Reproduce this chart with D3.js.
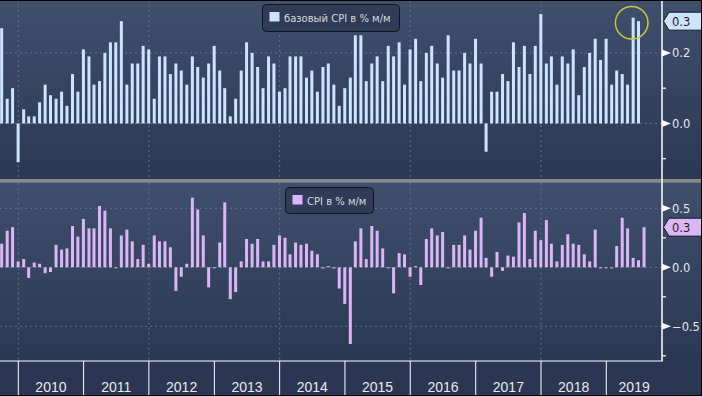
<!DOCTYPE html>
<html>
<head>
<meta charset="utf-8">
<script src="https://cdn.jsdelivr.net/npm/d3@7"></script>
<style>
body { margin: 0; background: #2a3652; }
svg { display: block; }
</style>
</head>
<body>
<svg></svg>
<script>
// monthly data, first bar = Sep 2009 (bars sit at month end)
let firstMonth = "2009-09"

let coreValues = [
  0.27, 0.07, 0.10, -0.11, 0.04, 0.02, 0.02, 0.06, 0.11, 0.08, 0.07, 0.09,
  0.05, 0.14, 0.09, 0.21, 0.19, 0.11, 0.12, 0.20, 0.23, 0.23, 0.29, 0.11,
  0.17, 0.17, 0.22, 0.21, 0.07, 0.19, 0.19, 0.14, 0.17, 0.15, 0.11, 0.19,
  0.16, 0.13, 0.17, 0.22, 0.15, 0.10, 0.02, 0.07, 0.15, 0.23, 0.20, 0.16,
  0.10, 0.19, 0.17, 0.09, 0.10, 0.19, 0.19, 0.19, 0.13, 0.15, 0.09, 0.16,
  0.17, 0.11, 0.05, 0.10, 0.13, 0.25, 0.25, 0.12, 0.17, 0.19, 0.12, 0.22,
  0.19, 0.23, 0.11, 0.21, 0.24, 0.12, 0.20, 0.22, 0.17, 0.13, 0.25, 0.15,
  0.15, 0.20, 0.17, 0.24, 0.17, -0.08, 0.09, 0.09, 0.14, 0.12, 0.23, 0.16,
  0.22, 0.14, 0.22, 0.31, 0.17, 0.19, 0.11, 0.19, 0.17, 0.21, 0.08, 0.16,
  0.20, 0.24, 0.18, 0.24, 0.11, 0.15, 0.14, 0.11, 0.30, 0.29
]

let cpiValues = [
  0.20, 0.31, 0.34, 0.05, 0.07, -0.09, 0.04, 0.03, -0.05, -0.04, 0.19, 0.15,
  0.16, 0.35, 0.26, 0.41, 0.33, 0.33, 0.52, 0.48, 0.33, 0.00, 0.27, 0.32,
  0.22, 0.07, 0.19, 0.03, 0.27, 0.22, 0.22, 0.17, -0.20, -0.08, 0.03, 0.59,
  0.49, 0.27, -0.17, 0.00, 0.21, 0.55, -0.27, -0.21, 0.05, 0.24, 0.20, 0.24,
  0.05, 0.05, 0.19, 0.27, 0.25, 0.11, 0.21, 0.19, 0.20, 0.14, 0.11, -0.01,
  0.01, -0.01, -0.18, -0.31, -0.65, 0.22, 0.33, 0.07, 0.35, 0.31, 0.16, 0.00,
  -0.22, 0.12, 0.11, -0.08, 0.01, -0.15, 0.24, 0.33, 0.27, 0.30, 0.00, 0.19,
  0.19, 0.27, 0.15, 0.31, 0.42, 0.08, -0.08, 0.13, -0.03, 0.10, 0.09, 0.38,
  0.46, 0.07, 0.31, 0.23, 0.40, 0.20, 0.05, 0.19, 0.28, 0.20, 0.19, 0.11,
  0.05, 0.32, 0.00, 0.00, 0.00, 0.18, 0.42, 0.33, 0.08, 0.06, 0.34
]

let years = [2010, 2011, 2012, 2013, 2014, 2015, 2016, 2017, 2018, 2019]
let gridYears = [2010, 2012, 2014, 2016, 2018]

let coreTicks = [0.2, 0.0]
let coreMinorTicks = [0.1, -0.1]
let cpiTicks = [0.5, 0.0, -0.5]
let cpiMinorTicks = [0.25, -0.25, -0.75]

let coreLabel = "базовый CPI в % м/м"
let cpiLabel = "CPI в % м/м"

let width = 702
let height = 396
let plotRight = 662
let axisY = 361

let svg = d3.select("svg")
  .attr("width", width)
  .attr("height", height)

let parseMonth = d3.timeParse("%Y-%m")
let start = parseMonth(firstMonth)
// month-end date for bar i
let monthEnd = (i) => d3.timeDay.offset(d3.timeMonth.offset(start, i + 1), -1)

let xScale = d3.scaleTime()
  .domain([new Date(2010, 0, 1), new Date(2019, 0, 1)])
  .range([18.3, 606.3])

let defs = svg.append("defs")
let grad = defs.append("linearGradient")
  .attr("id", "panelGrad")
  .attr("x1", 0).attr("y1", 0).attr("x2", 0).attr("y2", 1)
grad.append("stop").attr("offset", "0%").attr("stop-color", "#3f4f6c")
grad.append("stop").attr("offset", "100%").attr("stop-color", "#2b3853")

let panels = [
  {
    id: "core", values: coreValues, top: 0, bottom: 179,
    domain: [-0.1575, 0.35], ticks: coreTicks, minor: coreMinorTicks,
    color: "#cce4ff", label: coreLabel,
    legend: { x: 262, y: 4, w: 137, h: 27 }
  },
  {
    id: "cpi", values: cpiValues, top: 182.7, bottom: axisY,
    domain: [-0.794, 0.717], ticks: cpiTicks, minor: cpiMinorTicks,
    color: "#dbb6f4", label: cpiLabel,
    legend: { x: 285, y: 187, w: 88, h: 26 }
  }
]

// area under x axis
svg.append("rect")
  .attr("x", 0).attr("y", axisY)
  .attr("width", width).attr("height", height - axisY)
  .attr("fill", "#2a3652")

let drawPanel = (p) => {
  let yScale = d3.scaleLinear()
    .domain(p.domain)
    .range([p.bottom, p.top])

  let g = svg.append("g").attr("id", p.id)

  g.append("rect")
    .attr("x", 0).attr("y", p.top)
    .attr("width", width).attr("height", p.bottom - p.top)
    .attr("fill", "url(#panelGrad)")

  defs.append("clipPath").attr("id", "clip-" + p.id)
    .append("rect")
    .attr("x", 0).attr("y", p.top)
    .attr("width", plotRight).attr("height", p.bottom - p.top)

  // dashed grid
  g.selectAll(".hgrid")
    .data(p.ticks)
    .enter()
    .append("line")
    .attr("x1", 0).attr("x2", plotRight)
    .attr("y1", (d) => yScale(d)).attr("y2", (d) => yScale(d))
    .attr("stroke", "#5d7190")
    .attr("stroke-dasharray", "2,3")

  g.selectAll(".vgrid")
    .data(gridYears)
    .enter()
    .append("line")
    .attr("x1", (d) => xScale(new Date(d, 0, 1)))
    .attr("x2", (d) => xScale(new Date(d, 0, 1)))
    .attr("y1", p.top).attr("y2", p.bottom)
    .attr("stroke", "#5d7190")
    .attr("stroke-dasharray", "2,3")

  // bars
  g.append("g")
    .attr("clip-path", "url(#clip-" + p.id + ")")
    .selectAll("rect")
    .data(p.values)
    .enter()
    .append("rect")
    .attr("x", (d, i) => xScale(monthEnd(i)) - 1.5)
    .attr("width", 3)
    .attr("y", (d) => Math.min(yScale(d), yScale(0)))
    .attr("height", (d) => Math.max(1, Math.abs(yScale(d) - yScale(0))))
    .attr("fill", p.color)

  // right axis ticks
  let axis = g.append("g")
  axis.selectAll(".minor")
    .data(p.minor)
    .enter()
    .append("line")
    .attr("x1", plotRight).attr("x2", plotRight + 4)
    .attr("y1", (d) => yScale(d)).attr("y2", (d) => yScale(d))
    .attr("stroke", "#ffffff")
    .attr("stroke-width", 1.2)

  axis.selectAll(".marker")
    .data(p.ticks)
    .enter()
    .append("path")
    .attr("d", (d) => {
      let y = yScale(d)
      return "M" + plotRight + "," + (y - 3.5) + "L" + (plotRight + 9) + "," + y + "L" + plotRight + "," + (y + 3.5) + "Z"
    })
    .attr("fill", "#ffffff")

  axis.selectAll(".lbl")
    .data(p.ticks)
    .enter()
    .append("text")
    .attr("x", plotRight + 10)
    .attr("y", (d) => yScale(d) + 4.5)
    .attr("fill", "#e4e6ea")
    .attr("font-family", "DejaVu Sans, sans-serif")
    .attr("font-size", "11.5px")
    .text((d) => d3.format(".1f")(d).replace("-", "\u2212"))

  // last value flag
  let last = p.values[p.values.length - 1]
  let ly = yScale(last)
  axis.append("path")
    .attr("d", "M" + (plotRight + 1.5) + "," + ly + "L" + (plotRight + 7) + "," + (ly - 9) +
      "L" + (width + 2) + "," + (ly - 9) + "L" + (width + 2) + "," + (ly + 9) +
      "L" + (plotRight + 7) + "," + (ly + 9) + "Z")
    .attr("fill", p.color)
    .attr("stroke", "#15181f")
    .attr("stroke-width", 1)
  axis.append("text")
    .attr("x", plotRight + 10)
    .attr("y", ly + 4.5)
    .attr("fill", "#1b1d26")
    .attr("font-family", "DejaVu Sans, sans-serif")
    .attr("font-size", "11.5px")
    .text(d3.format(".1f")(last))

  // legend
  let lg = g.append("g").attr("transform", "translate(" + p.legend.x + "," + p.legend.y + ")")
  lg.append("rect")
    .attr("x", 0.5).attr("y", 0.5)
    .attr("width", p.legend.w).attr("height", p.legend.h)
    .attr("rx", 4)
    .attr("fill", "#303c57")
    .attr("stroke", "#10131a")
  lg.append("rect")
    .attr("x", 7.5).attr("y", 8)
    .attr("width", 10).attr("height", 9.5)
    .attr("fill", p.color)
  lg.append("text")
    .attr("x", 22)
    .attr("y", 17.5)
    .attr("fill", "#d6d9df")
    .attr("font-family", "DejaVu Sans, sans-serif")
    .attr("font-size", "10px")
    .text(p.label)
}

panels.forEach(drawPanel)

// separator between panels
svg.append("rect")
  .attr("x", 0).attr("y", 179)
  .attr("width", width).attr("height", 3.7)
  .attr("fill", "#87898d")

// right axis line
svg.append("line")
  .attr("x1", plotRight).attr("x2", plotRight)
  .attr("y1", 0).attr("y2", axisY)
  .attr("stroke", "#ffffff")
  .attr("stroke-width", 1.5)

// x axis
svg.append("line")
  .attr("x1", 0).attr("x2", plotRight + 0.75)
  .attr("y1", axisY).attr("y2", axisY)
  .attr("stroke", "#ffffff")
  .attr("stroke-width", 1.2)

svg.selectAll(".yearSep")
  .data(years)
  .enter()
  .append("line")
  .attr("x1", (d) => xScale(new Date(d, 0, 1)))
  .attr("x2", (d) => xScale(new Date(d, 0, 1)))
  .attr("y1", axisY).attr("y2", height)
  .attr("stroke", "#ffffff")
  .attr("stroke-width", 1)

svg.selectAll(".yearLbl")
  .data(years)
  .enter()
  .append("text")
  .attr("x", (d) => {
    let a = Math.max(0, xScale(new Date(d, 0, 1)))
    let b = Math.min(plotRight, xScale(new Date(d + 1, 0, 1)))
    return (a + b) / 2
  })
  .attr("y", 392)
  .attr("text-anchor", "middle")
  .attr("fill", "#e8e9ec")
  .attr("font-family", "Liberation Sans Narrow, Arial Narrow, sans-serif")
  .attr("font-size", "14px")
  .text((d) => d)

// highlight circle on the last core values
svg.append("circle")
  .attr("cx", 631.7).attr("cy", 22.7).attr("r", 16.3)
  .attr("fill", "none")
  .attr("stroke", "#c9c93a")
  .attr("stroke-width", 1.5)

// frame
svg.append("line").attr("x1", 0).attr("x2", width).attr("y1", 0.5).attr("y2", 0.5).attr("stroke", "#000")
svg.append("line").attr("x1", width - 0.5).attr("x2", width - 0.5).attr("y1", 0).attr("y2", height).attr("stroke", "#000")
svg.append("line").attr("x1", 0).attr("x2", width).attr("y1", height - 0.5).attr("y2", height - 0.5).attr("stroke", "#000")
</script>
</body>
</html>
